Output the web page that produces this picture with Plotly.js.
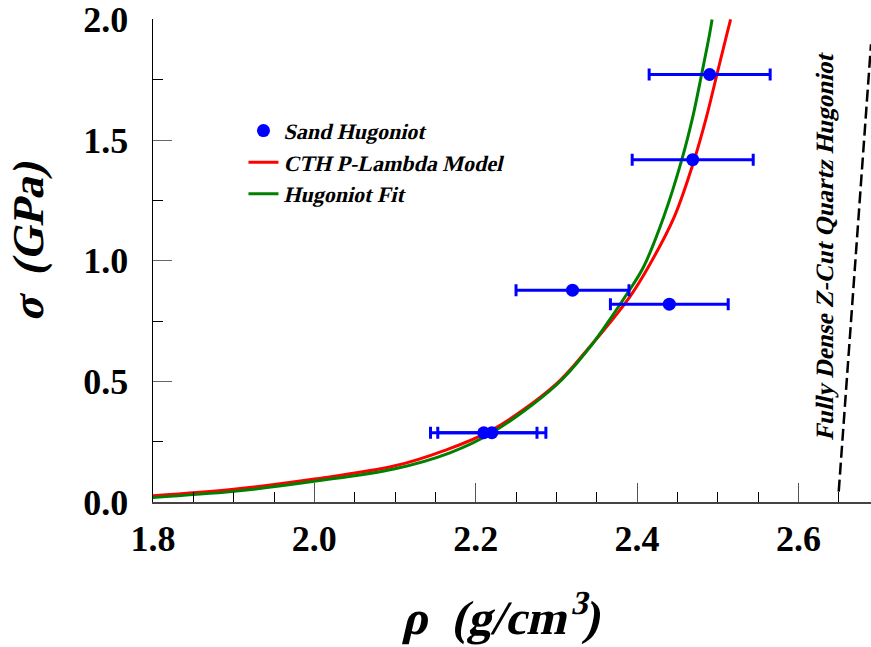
<!DOCTYPE html>
<html>
<head>
<meta charset="utf-8">
<script src="https://cdn.plot.ly/plotly-3.0.1.min.js"></script>
<style>html,body{margin:0;padding:0;background:#fff;}#chart{width:871px;height:647px;}</style>
</head>
<body>
<div id="chart"></div>
<script>
// Sand Hugoniot data points
const sandRho = [2.490, 2.469, 2.320, 2.440, 2.210, 2.220];
const sandSigma = [1.772, 1.419, 0.878, 0.820, 0.287, 0.287];
const sandRhoErr = [0.075, 0.075, 0.070, 0.073, 0.066, 0.067];

// CTH P-Lambda model curve
const cthRho = [1.80, 1.90, 2.00, 2.10, 2.160, 2.220, 2.300, 2.338, 2.372, 2.391, 2.414, 2.446, 2.471, 2.486, 2.499, 2.5115, 2.516];
const cthSigma = [0.026, 0.053, 0.095, 0.150, 0.212, 0.298, 0.490, 0.630, 0.767, 0.850, 0.974, 1.181, 1.419, 1.595, 1.772, 1.941, 2.000];

// Hugoniot fit curve
const fitRho = [1.80, 1.90, 2.00, 2.10, 2.168, 2.220, 2.300, 2.340, 2.370, 2.388, 2.408, 2.433, 2.4555, 2.469, 2.480, 2.490, 2.493];
const fitSigma = [0.019, 0.044, 0.086, 0.138, 0.204, 0.287, 0.485, 0.635, 0.775, 0.865, 0.974, 1.181, 1.419, 1.595, 1.772, 1.941, 2.000];

// Fully dense Z-cut quartz Hugoniot (dashed)
const quartzRho = [2.650, 2.690];
const quartzSigma = [0.043, 1.897];

const serif = "Liberation Serif";

const traces = [
  {
    x: cthRho, y: cthSigma, type: 'scatter', mode: 'lines',
    name: 'CTH P-Lambda Model', line: {color: '#ff0000', width: 3, shape: 'spline', smoothing: 1},
    legendrank: 2
  },
  {
    x: fitRho, y: fitSigma, type: 'scatter', mode: 'lines',
    name: 'Hugoniot Fit', line: {color: '#008000', width: 3, shape: 'spline', smoothing: 1},
    legendrank: 3
  },
  {
    x: quartzRho, y: quartzSigma, type: 'scatter', mode: 'lines',
    name: 'Quartz', showlegend: false,
    line: {color: '#000000', width: 2.5, dash: '12px,5px'}
  },
  {
    x: sandRho, y: sandSigma, type: 'scatter', mode: 'markers',
    name: 'Sand Hugoniot', marker: {color: '#0000ff', size: 13},
    error_x: {type: 'data', array: sandRhoErr, visible: true, color: '#0000ff', thickness: 3, width: 6},
    legendrank: 1
  }
];

const layout = {
  width: 871, height: 647,
  margin: {l: 153, r: 0, t: 19, b: 145},
  paper_bgcolor: '#ffffff', plot_bgcolor: '#ffffff',
  font: {family: serif, color: '#000'},
  showlegend: true,
  legend: {
    x: 0.126, y: 0.812, xanchor: 'left', yanchor: 'top',
    bgcolor: 'rgba(0,0,0,0)', borderwidth: 0,
    font: {family: serif, size: 22, weight: 'bold', color: '#000'},
    tracegroupgap: 0, traceorder: 'normal'
  },
  xaxis: {
    range: [1.8, 2.690], dtick: 0.2, tick0: 1.8, tickformat: '.1f',
    showgrid: false, zeroline: false,
    showline: true, linecolor: '#444', linewidth: 2,
    ticks: 'inside', ticklen: 19, tickwidth: 1, tickcolor: '#555',
    minor: {dtick: 0.05, ticks: 'inside', ticklen: 10, tickwidth: 1, tickcolor: '#000', showgrid: false},
    tickfont: {family: serif, size: 36, weight: 'bold', color: '#000'},
    ticklabelstandoff: 4,
    title: {text: 'ρ&nbsp;&nbsp;(g/cm<sup>3</sup>)', font: {family: serif, size: 48, weight: 'bold', color: '#000'}, standoff: 42}
  },
  yaxis: {
    range: [0, 2.002], dtick: 0.5, tick0: 0, tickformat: '.1f',
    showgrid: false, zeroline: false,
    showline: true, linecolor: '#000', linewidth: 1.5,
    ticks: 'inside', ticklen: 19, tickwidth: 1, tickcolor: '#666',
    minor: {dtick: 0.25, ticks: 'inside', ticklen: 10, tickwidth: 1, tickcolor: '#000', showgrid: false},
    tickfont: {family: serif, size: 36, weight: 'bold', color: '#000'},
    ticklabelstandoff: 16,
    title: {text: 'σ&nbsp;&nbsp;(GPa)', font: {family: serif, size: 44, weight: 'bold', color: '#000'}, standoff: 26}
  },
  annotations: [
    {
      x: 2.632, y: 1.056, xref: 'x', yref: 'y',
      text: 'Fully Dense Z-Cut Quartz Hugoniot', showarrow: false, textangle: -90,
      font: {family: serif, size: 25, weight: 'bold', color: '#000'}
    }
  ]
};

// Liberation Serif has no italic face here: slant the bold face about each text's baseline,
// optionally nudging the text (dx, dy in page pixels) first
function slant(selector, dx, dy) {
  document.querySelectorAll(selector).forEach(function (t) {
    const x = parseFloat(t.getAttribute('x')) || 0;
    const y = parseFloat(t.getAttribute('y')) || 0;
    const tr = t.getAttribute('transform') || '';
    const shift = (dx || dy) ? 'translate(' + (dx || 0) + ',' + (dy || 0) + ') ' : '';
    t.setAttribute('transform', (shift + tr + ' translate(' + x + ',' + y + ') skewX(-13) translate(' + (-x) + ',' + (-y) + ')').trim());
  });
}

Plotly.newPlot('chart', traces, layout, {displayModeBar: false, staticPlot: true}).then(function () {
  slant('.g-xtitle text', -12, 0);
  slant('.g-ytitle text', 0, -18);
  slant('.legendtext');
  slant('.annotation-text');
});
</script>
</body>
</html>
